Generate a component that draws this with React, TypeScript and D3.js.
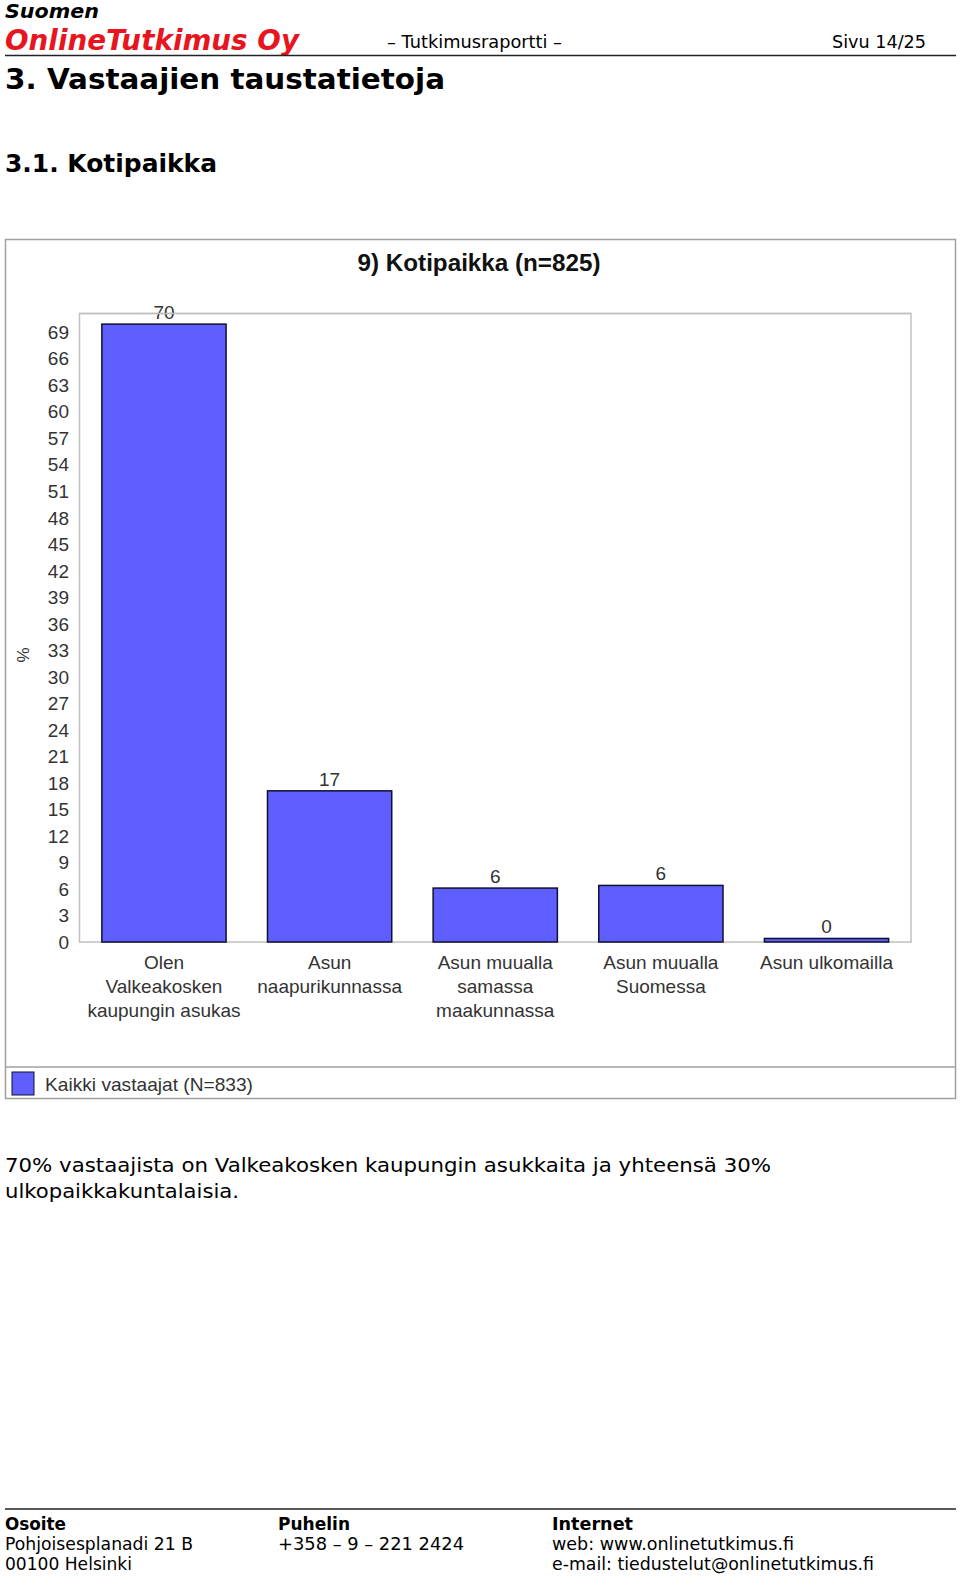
import React from "react";
import * as d3 from "d3";

const categories: string[][] = [
  ["Olen", "Valkeakosken", "kaupungin asukas"],
  ["Asun", "naapurikunnassa"],
  ["Asun muualla", "samassa", "maakunnassa"],
  ["Asun muualla", "Suomessa"],
  ["Asun ulkomailla"],
];
const values: number[] = [69.9, 17.1, 6.1, 6.4, 0.4];
const yTicks: number[] = d3.range(0, 70, 3);
const chartTitle = "9) Kotipaikka (n=825)";
const legendLabel = "Kaikki vastaajat (N=833)";
const yLabel = "%";

const W = 960;
const H = 1576;
const plot = { left: 79.5, right: 911, top: 313.5, bottom: 942 };

export default function App() {
  const x = d3
    .scaleBand<number>()
    .domain(d3.range(values.length))
    .range([plot.left, plot.right])
    .paddingInner(0.25)
    .paddingOuter(0.135);
  const y = d3.scaleLinear().domain([0, 71.1]).range([plot.bottom, plot.top]);

  const chartFont = "'Liberation Sans', Arial, sans-serif";
  const pageFont = "'DejaVu Sans', Verdana, sans-serif";
  const grey = "#333";

  return (
    <svg
      width={W}
      height={H}
      style={{ position: "absolute", left: 0, top: 0, background: "#fff" }}
    >
      {/* page header */}
      <text x={5} y={18} fontFamily={pageFont} fontWeight="bold" fontStyle="italic" fontSize={19} textLength={94} lengthAdjust="spacingAndGlyphs">Suomen</text>
      <text x={5} y={50} fontFamily={pageFont} fontWeight="bold" fontStyle="italic" fontSize={28} fill="#e8141e" textLength={294} lengthAdjust="spacingAndGlyphs">OnlineTutkimus Oy</text>
      <text x={387} y={48} fontFamily={pageFont} fontSize={17} textLength={175} lengthAdjust="spacingAndGlyphs">– Tutkimusraportti –</text>
      <text x={832} y={48} fontFamily={pageFont} fontSize={17} textLength={94} lengthAdjust="spacingAndGlyphs">Sivu 14/25</text>
      <line x1={5} x2={956} y1={55.5} y2={55.5} stroke="#222" strokeWidth={1.5} />
      <text x={5} y={89} fontFamily={pageFont} fontWeight="bold" fontSize={28} textLength={440} lengthAdjust="spacingAndGlyphs">3. Vastaajien taustatietoja</text>
      <text x={5} y={172} fontFamily={pageFont} fontWeight="bold" fontSize={24} textLength={212} lengthAdjust="spacingAndGlyphs">3.1. Kotipaikka</text>

      {/* chart frame */}
      <rect x={5.5} y={239.5} width={950} height={859} fill="#fff" stroke="#a0a0a0" strokeWidth={1.5} />
      <line x1={5.5} x2={955.5} y1={1067} y2={1067} stroke="#a0a0a0" strokeWidth={1.5} />
      <text x={479} y={271} textAnchor="middle" fontFamily={chartFont} fontWeight="bold" fontSize={24} fill="#111" textLength={243} lengthAdjust="spacingAndGlyphs">{chartTitle}</text>

      {/* plot border */}
      <rect x={plot.left} y={plot.top} width={plot.right - plot.left} height={plot.bottom - plot.top} fill="none" stroke="#c0c0c0" strokeWidth={1.5} />

      {/* y ticks */}
      {yTicks.map((t) => (
        <text key={t} x={69} y={y(t)} dy="0.36em" textAnchor="end" fontFamily={chartFont} fontSize={19} fill={grey}>{t}</text>
      ))}
      <text transform={`translate(29,655) rotate(-90)`} textAnchor="middle" fontFamily={chartFont} fontSize={17} fill={grey}>{yLabel}</text>

      {/* bars */}
      {values.map((v, i) => (
        <g key={i}>
          <rect x={x(i)!} y={y(v)} width={x.bandwidth()} height={y(0) - y(v)} fill="#5f5fff" stroke="#101030" strokeWidth={1.5} />
          <text x={x(i)! + x.bandwidth() / 2} y={y(v) - 12} dy="0.36em" textAnchor="middle" fontFamily={chartFont} fontSize={19} fill={grey}>{Math.round(v)}</text>
        </g>
      ))}
      <line x1={plot.left} x2={plot.right} y1={plot.top} y2={plot.top} stroke="#c0c0c0" strokeWidth={1.5} />

      {/* category labels */}
      {categories.map((lines, i) => (
        <text key={i} textAnchor="middle" fontFamily={chartFont} fontSize={19} fill={grey}>
          {lines.map((l, j) => (
            <tspan key={j} x={x(i)! + x.bandwidth() / 2} y={962 + j * 24} dy="0.36em">{l}</tspan>
          ))}
        </text>
      ))}

      {/* legend */}
      <rect x={12} y={1072} width={22} height={23} fill="#5f5fff" stroke="#101030" strokeWidth={1} />
      <text x={45} y={1084} dy="0.36em" fontFamily={chartFont} fontSize={19} fill={grey} textLength={208} lengthAdjust="spacingAndGlyphs">{legendLabel}</text>

      {/* paragraph */}
      <text x={5} y={1172} fontFamily={pageFont} fontSize={20} textLength={766} lengthAdjust="spacingAndGlyphs">70% vastaajista on Valkeakosken kaupungin asukkaita ja yhteensä 30%</text>
      <text x={5} y={1198} fontFamily={pageFont} fontSize={20} textLength={234} lengthAdjust="spacingAndGlyphs">ulkopaikkakuntalaisia.</text>

      {/* footer */}
      <line x1={5} x2={956} y1={1509} y2={1509} stroke="#222" strokeWidth={1.5} />
      <g fontFamily={pageFont} fontSize={17}>
        <text x={5} y={1530} fontWeight="bold" textLength={61} lengthAdjust="spacingAndGlyphs">Osoite</text>
        <text x={5} y={1550} textLength={188} lengthAdjust="spacingAndGlyphs">Pohjoisesplanadi 21 B</text>
        <text x={5} y={1570} textLength={127} lengthAdjust="spacingAndGlyphs">00100 Helsinki</text>
        <text x={278} y={1530} fontWeight="bold" textLength={72} lengthAdjust="spacingAndGlyphs">Puhelin</text>
        <text x={278} y={1550} textLength={186} lengthAdjust="spacingAndGlyphs">+358 – 9 – 221 2424</text>
        <text x={552} y={1530} fontWeight="bold" textLength={81} lengthAdjust="spacingAndGlyphs">Internet</text>
        <text x={552} y={1550} textLength={242} lengthAdjust="spacingAndGlyphs">web: www.onlinetutkimus.fi</text>
        <text x={552} y={1570} textLength={322} lengthAdjust="spacingAndGlyphs">e-mail: tiedustelut@onlinetutkimus.fi</text>
      </g>
    </svg>
  );
}
